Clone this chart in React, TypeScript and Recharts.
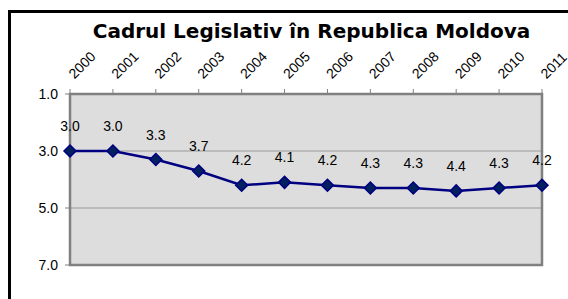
import { LineChart, Line, XAxis, YAxis, CartesianGrid, LabelList, ReferenceArea } from "recharts";

const years = ["2000", "2001", "2002", "2003", "2004", "2005", "2006", "2007", "2008", "2009", "2010", "2011"];
const scores = [3.0, 3.0, 3.3, 3.7, 4.2, 4.1, 4.2, 4.3, 4.3, 4.4, 4.3, 4.2];
const yTicks = [1, 3, 5, 7];

const data = years.map((year, i) => ({ year, score: scores[i] }));

const FONT = "'Liberation Sans', Arial, sans-serif";

function YearTick(props: any) {
  const { x, y, payload } = props;
  return (
    <text
      x={x + 1}
      y={y - 11}
      dy="0.35em"
      transform={`rotate(-45 ${x + 1} ${y - 11})`}
      textAnchor="start"
      fontSize={14}
      fontFamily={FONT}
      fill="#000"
    >
      {payload.value}
    </text>
  );
}

function Diamond(props: any) {
  const { cx, cy } = props;
  if (cx == null || cy == null) return null;
  const r = 6;
  return (
    <polygon
      points={`${cx},${cy - r} ${cx + r},${cy} ${cx},${cy + r} ${cx - r},${cy}`}
      fill="#002060"
      stroke="#000080"
      strokeWidth={1.5}
    />
  );
}

export default function App() {
  return (
    <div
      style={{
        position: "fixed",
        left: 0,
        top: 0,
        width: 568,
        height: 299,
        overflow: "hidden",
        background: "#fff",
      }}
    >
      {/* outer frame, runs off the right and bottom edge */}
      <div
        style={{
          position: "absolute",
          left: 8,
          top: 10,
          width: 700,
          height: 400,
          border: "3px solid #000",
        }}
      />
      <div
        style={{
          position: "absolute",
          left: 0,
          top: 21,
          width: 623,
          textAlign: "center",
          fontFamily: "'DejaVu Sans', sans-serif",
          fontWeight: "bold",
          fontSize: 20,
          lineHeight: "20px",
          color: "#000",
        }}
      >
        Cadrul Legislativ în Republica Moldova
      </div>
      <div style={{ position: "absolute", left: 0, top: 0 }}>
        <LineChart width={568} height={299} data={data} margin={{ top: 44, right: 26, bottom: 34, left: 10 }}>
          <CartesianGrid vertical={false} stroke="#999" fill="#dddddd" />
          <XAxis
            dataKey="year"
            orientation="top"
            height={50}
            padding={{ left: 0, right: 0 }}
            interval={0}
            tickSize={5}
            tickLine={{ stroke: "#808080" }}
            axisLine={{ stroke: "#808080", strokeWidth: 2 }}
            tick={<YearTick />}
          />
          <YAxis
            reversed
            domain={[1, 7]}
            ticks={yTicks}
            width={60}
            tickSize={5}
            tickMargin={7}
            tickFormatter={(v: number) => v.toFixed(1)}
            tickLine={{ stroke: "#808080" }}
            axisLine={{ stroke: "#808080", strokeWidth: 2 }}
            tick={{ fontSize: 14, fontFamily: FONT, fill: "#000" }}
          />
          <ReferenceArea x1="2000" x2="2011" y1={1} y2={7} fill="none" stroke="#808080" strokeWidth={2.5} />
          <Line
            dataKey="score"
            stroke="#000080"
            strokeWidth={2.5}
            dot={<Diamond />}
            activeDot={false}
            isAnimationActive={false}
          >
            <LabelList
              dataKey="score"
              position="top"
              offset={20}
              formatter={(v: number) => v.toFixed(1)}
              style={{ fontSize: 14, fontFamily: FONT, fill: "#000" }}
            />
          </Line>
        </LineChart>
      </div>
    </div>
  );
}
